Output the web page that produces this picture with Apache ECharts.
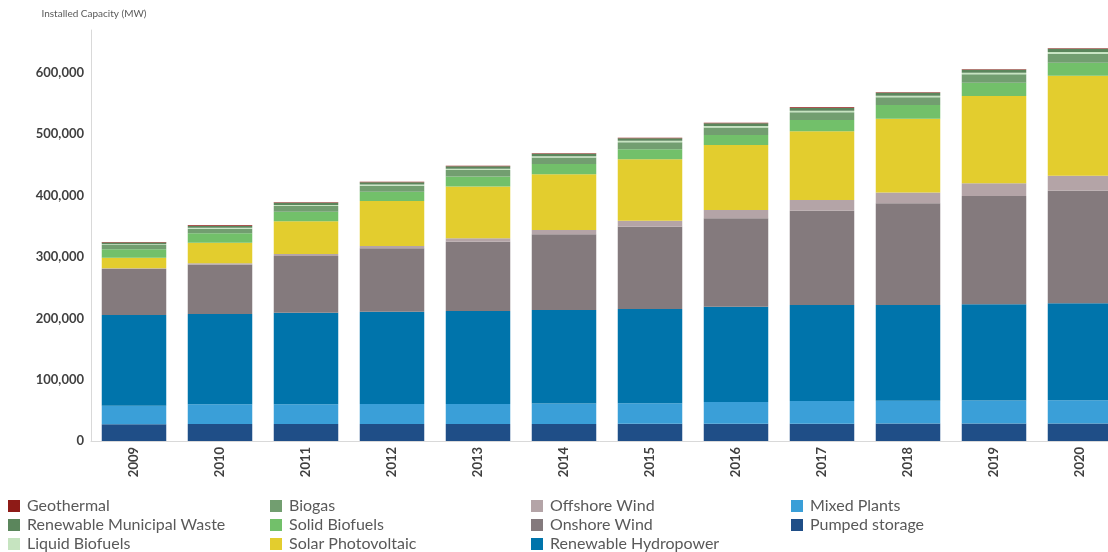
<!DOCTYPE html>
<html>
<head>
<meta charset="utf-8">
<script src="https://cdn.jsdelivr.net/npm/echarts@6/dist/echarts.min.js"></script>
<style>
  html, body { margin: 0; padding: 0; background: #ffffff; }
  #chart { width: 1108px; height: 552px; }
</style>
</head>
<body>
<div id="chart"></div>
<script>
// Installed renewable capacity by technology, MW
const years = ['2009', '2010', '2011', '2012', '2013', '2014', '2015', '2016', '2017', '2018', '2019', '2020'];

const pumpedStorage = [27500, 27600, 27600, 27700, 27800, 27900, 28000, 28200, 28300, 28400, 28500, 28600];
const mixedPlants = [30100, 32200, 32400, 32500, 32700, 33100, 33500, 35300, 36900, 37300, 37500, 37900];
const hydropower = [147800, 147200, 149200, 150700, 151500, 152600, 153700, 155500, 156500, 156000, 156900, 158000];
const onshoreWind = [74800, 80700, 92400, 103300, 113000, 123400, 134200, 144100, 153800, 165900, 176600, 183600];
const offshoreWind = [1400, 2000, 3300, 3800, 5500, 7000, 9800, 13500, 17500, 17300, 20700, 24500];
const solarPV = [17300, 33600, 53300, 73300, 84200, 90800, 100100, 106000, 112000, 120600, 142300, 163000];
const solidBiofuels = [13600, 15300, 15700, 15200, 16300, 16900, 16300, 16300, 18400, 22400, 21700, 21200];
const biogas = [7000, 7500, 9100, 9700, 10900, 10500, 11400, 12300, 12600, 12600, 13500, 14500];
const liquidBiofuels = [1400, 1600, 1800, 2000, 2100, 2100, 2300, 2400, 2500, 2500, 2600, 2800];
const municipalWaste = [2600, 2900, 3400, 3600, 3900, 3800, 4200, 4400, 4500, 4600, 4800, 5200];
const geothermal = [1000, 1000, 1000, 1000, 1000, 1000, 1000, 1000, 1000, 1000, 1000, 1000];

const yTicks = { min: 0, max: 670000, interval: 100000 };

// Stack order, bottom to top
const layers = [
  { name: 'Pumped storage', data: pumpedStorage, color: '#1F4E87' },
  { name: 'Mixed Plants', data: mixedPlants, color: '#3A9FD8' },
  { name: 'Renewable Hydropower', data: hydropower, color: '#0074AB' },
  { name: 'Onshore Wind', data: onshoreWind, color: '#847A7D' },
  { name: 'Offshore Wind', data: offshoreWind, color: '#B4A4A7' },
  { name: 'Solar Photovoltaic', data: solarPV, color: '#E3CD2E' },
  { name: 'Solid Biofuels', data: solidBiofuels, color: '#72C06A' },
  { name: 'Biogas', data: biogas, color: '#729E70' },
  { name: 'Liquid Biofuels', data: liquidBiofuels, color: '#C6E4C0' },
  { name: 'Renewable Municipal Waste', data: municipalWaste, color: '#5B865C' },
  { name: 'Geothermal', data: geothermal, color: '#8E1B17' }
];

const legendColumns = [
  ['Geothermal', 'Renewable Municipal Waste', 'Liquid Biofuels'],
  ['Biogas', 'Solid Biofuels', 'Solar Photovoltaic'],
  ['Offshore Wind', 'Onshore Wind', 'Renewable Hydropower'],
  ['Mixed Plants', 'Pumped storage']
];
const legendLeft = [8, 270, 531, 791];

const chart = echarts.init(document.getElementById('chart'), null, { renderer: 'canvas' });

chart.setOption({
  animation: false,
  backgroundColor: '#ffffff',
  textStyle: { fontFamily: 'Lato' },
  // the plot runs past the right edge, so the last bar is cut off
  grid: { left: 91, width: 1032, top: 30, bottom: 111, containLabel: false, outerBoundsMode: 'none' },
  legend: legendColumns.map((col, i) => ({
    data: col,
    orient: 'vertical',
    left: legendLeft[i],
    top: 498,
    padding: 0,
    itemWidth: 12,
    itemHeight: 12,
    itemGap: 3,
    icon: 'rect',
    selectedMode: false,
    textStyle: { fontFamily: 'Lato', fontSize: 16, color: '#595959', lineHeight: 16, padding: [0, 0, 0, 2] }
  })),
  xAxis: {
    type: 'category',
    data: years,
    axisLine: { show: true, lineStyle: { color: '#D9D9D9', width: 1 } },
    axisTick: { show: false },
    axisLabel: {
      rotate: 90,
      margin: 6,
      fontFamily: 'Lato',
      fontWeight: 'bold',
      fontSize: 13,
      color: '#404040'
    }
  },
  yAxis: {
    type: 'value',
    min: yTicks.min,
    max: yTicks.max,
    interval: yTicks.interval,
    name: 'Installed Capacity (MW)',
    nameLocation: 'end',
    nameGap: 11,
    nameTextStyle: { fontFamily: 'Lato', fontSize: 10, color: '#595959', align: 'center', padding: [0, 0, 0, 6] },
    axisLine: { show: true, lineStyle: { color: '#D9D9D9', width: 1 } },
    axisTick: { show: false },
    splitLine: { show: false },
    axisLabel: {
      showMaxLabel: false,
      margin: 7,
      fontFamily: 'Lato',
      fontWeight: 'bold',
      fontSize: 13,
      color: '#404040',
      formatter: v => v.toLocaleString('en-US')
    }
  },
  series: layers.map(l => ({
    name: l.name,
    type: 'bar',
    stack: 'capacity',
    data: l.data,
    barCategoryGap: '25%',
    itemStyle: { color: l.color },
    emphasis: { disabled: true }
  }))
});
</script>
</body>
</html>
